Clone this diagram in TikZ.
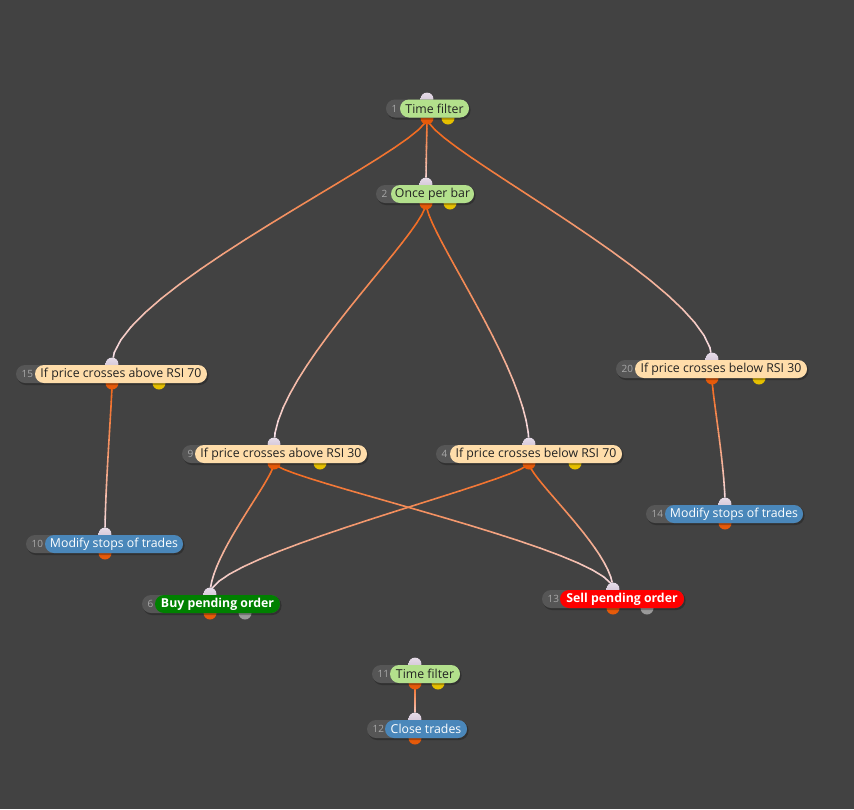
\documentclass[tikz,border=0pt]{standalone}
\usepackage{fontspec}
\setmainfont{Open Sans}
\usetikzlibrary{calc}
\definecolor{bgc}{HTML}{424242}
\definecolor{darkp}{HTML}{565656}
\definecolor{numc}{HTML}{A8A8A8}
\definecolor{tfgreen}{HTML}{B3E08C}
\definecolor{peach}{HTML}{FFDDAA}
\definecolor{stblue}{HTML}{4A87BA}
\definecolor{buyg}{HTML}{008000}
\definecolor{sellr}{HTML}{FF0000}
\definecolor{eorange}{HTML}{F26414}
\definecolor{elight}{HTML}{F6E2EC}
\definecolor{inportc}{HTML}{CDBDD0}
\definecolor{inporttop}{HTML}{E6DCE8}
\definecolor{outportc}{HTML}{E65A0A}
\definecolor{yportc}{HTML}{E6C000}
\definecolor{gportc}{HTML}{9A9A9A}
\definecolor{darktext}{HTML}{222222}
\tikzset{
  darkpill/.style={fill=darkp, rounded corners=9pt, minimum height=18pt, inner sep=0pt},
  labelpill/.style={rounded corners=9pt, minimum height=18pt, inner sep=0pt, font=\fontsize{12.3}{13}\selectfont},
  numtext/.style={text=numc, inner sep=0pt, anchor=west, font=\fontsize{10}{11}\selectfont},
  edgeline/.style={line width=1.6pt, line cap=round},
  inport/.style={top color=inporttop, bottom color=inportc},
  outport/.style={fill=outportc},
  yport/.style={fill=yportc},
  gport/.style={fill=gportc},
}
% node: name, darkleft, labelleft, right, y, number, label, fill, text style
\newcommand\fnode[9]{%
  \fill[black, opacity=0.25, rounded corners=9pt] (#2+1,#5-8) rectangle (#4+1.5,#5+11);
  \node[darkpill, minimum width={#4-#2}] (#1d) at ({(#2+#4)/2},#5) {};
  \node[numtext] (#1n) at (#2+5.5,#5) {#6};
  \node[labelpill, fill=#8, minimum width={#4-#3}, #9] (#1) at ({(#3+#4)/2},#5) {#7};
}
% \n1 is a canvas length (pt); canvas y points up
\newcommand\gedge[2]{%
  \path let \p1=(#1), \p2=(#2), \n1={\y1-\y2} in
    (#1) .. controls +(0pt,{-0.12*\n1}) and +(0pt,{0.3*\n1}) .. (#2)
    coordinate[pos=0] (q0) coordinate[pos=0.05] (q1) coordinate[pos=0.1] (q2)
    coordinate[pos=0.15] (q3) coordinate[pos=0.2] (q4) coordinate[pos=0.25] (q5)
    coordinate[pos=0.3] (q6) coordinate[pos=0.35] (q7) coordinate[pos=0.4] (q8)
    coordinate[pos=0.45] (q9) coordinate[pos=0.5] (q10) coordinate[pos=0.55] (q11)
    coordinate[pos=0.6] (q12) coordinate[pos=0.65] (q13) coordinate[pos=0.7] (q14)
    coordinate[pos=0.75] (q15) coordinate[pos=0.8] (q16) coordinate[pos=0.85] (q17)
    coordinate[pos=0.9] (q18) coordinate[pos=0.95] (q19) coordinate[pos=1] (q20);
  \foreach \i in {0,...,19}{%
    \pgfmathtruncatemacro\j{\i+1}%
    \pgfmathtruncatemacro\p{100*(1-((\i+0.5)/20)^1.4)}%
    \draw[edgeline, eorange!\p!elight] (q\i) -- (q\j);}%
}
\begin{document}
\begin{tikzpicture}[x=1pt,y=-1pt]
\fill[bgc] (0,0) rectangle (854,809);
\useasboundingbox (0,0) rectangle (854,809);
% port coordinates
\coordinate (p1i) at (427,99);   \coordinate (p1o) at (427,118);  \coordinate (p1y) at (448,118);
\coordinate (p2i) at (426,184);  \coordinate (p2o) at (426,203);  \coordinate (p2y) at (450,203);
\coordinate (p15i) at (112,364); \coordinate (p15o) at (112,383); \coordinate (p15y) at (159,383);
\coordinate (p20i) at (712,359); \coordinate (p20o) at (712,378); \coordinate (p20y) at (759,378);
\coordinate (p9i) at (274,444);  \coordinate (p9o) at (274,463);  \coordinate (p9y) at (320,463);
\coordinate (p4i) at (529,444);  \coordinate (p4o) at (529,463);  \coordinate (p4y) at (575,463);
\coordinate (p10i) at (105,534); \coordinate (p10o) at (105,553);
\coordinate (p14i) at (725,504); \coordinate (p14o) at (725,523);
\coordinate (p6i) at (210,594);  \coordinate (p6o) at (210,613);  \coordinate (p6g) at (245,613);
\coordinate (p13i) at (613,589); \coordinate (p13o) at (613,608); \coordinate (p13g) at (647,608);
\coordinate (p11i) at (415,664); \coordinate (p11o) at (415,683); \coordinate (p11y) at (438,683);
\coordinate (p12i) at (415,719); \coordinate (p12o) at (415,738);
% connectors
\gedge{p1o}{p2i}
\gedge{p1o}{p15i}
\gedge{p1o}{p20i}
\gedge{p2o}{p9i}
\gedge{p2o}{p4i}
\gedge{p15o}{p10i}
\gedge{p20o}{p14i}
\gedge{p9o}{p6i}
\gedge{p9o}{p13i}
\gedge{p4o}{p6i}
\gedge{p4o}{p13i}
\gedge{p11o}{p12i}
% ports
\foreach \n in {1,2,15,20,9,4,10,14,6,13,11,12}{%
  \fill[inport] (p\n i) circle (6.5);
  \fill[outport] (p\n o) circle (6.5);}
\foreach \n in {1,2,15,20,9,4,11}{\fill[yport] (p\n y) circle (6.5);}
\foreach \n in {6,13}{\fill[gport] (p\n g) circle (6.5);}
% nodes
\fnode{n1}{386}{400}{469}{108.5}{1}{Time filter}{tfgreen}{text=darktext}
\fnode{n2}{376}{391}{474}{194}{2}{Once per bar}{tfgreen}{text=darktext}
\fnode{n15}{16}{35}{207}{374}{15}{If price crosses above RSI 70}{peach}{text=darktext}
\fnode{n20}{616}{635}{807}{369}{20}{If price crosses below RSI 30}{peach}{text=darktext}
\fnode{n9}{182}{195}{367}{454}{9}{If price crosses above RSI 30}{peach}{text=darktext}
\fnode{n4}{436}{450}{622}{454}{4}{If price crosses below RSI 70}{peach}{text=darktext}
\fnode{n10}{26}{45}{183}{544}{10}{Modify stops of trades}{stblue}{text=white}
\fnode{n14}{646}{665}{803}{514}{14}{Modify stops of trades}{stblue}{text=white}
\fnode{n6}{142}{155}{280}{604}{6}{\bfseries Buy pending order}{buyg}{text=white}
\fnode{n13}{542}{560}{684}{599}{13}{\bfseries Sell pending order}{sellr}{text=white}
\fnode{n11}{372}{390}{460}{674}{11}{Time filter}{tfgreen}{text=darktext}
\fnode{n12}{367}{385}{467}{729}{12}{Close trades}{stblue}{text=white}
\end{tikzpicture}
\end{document}
